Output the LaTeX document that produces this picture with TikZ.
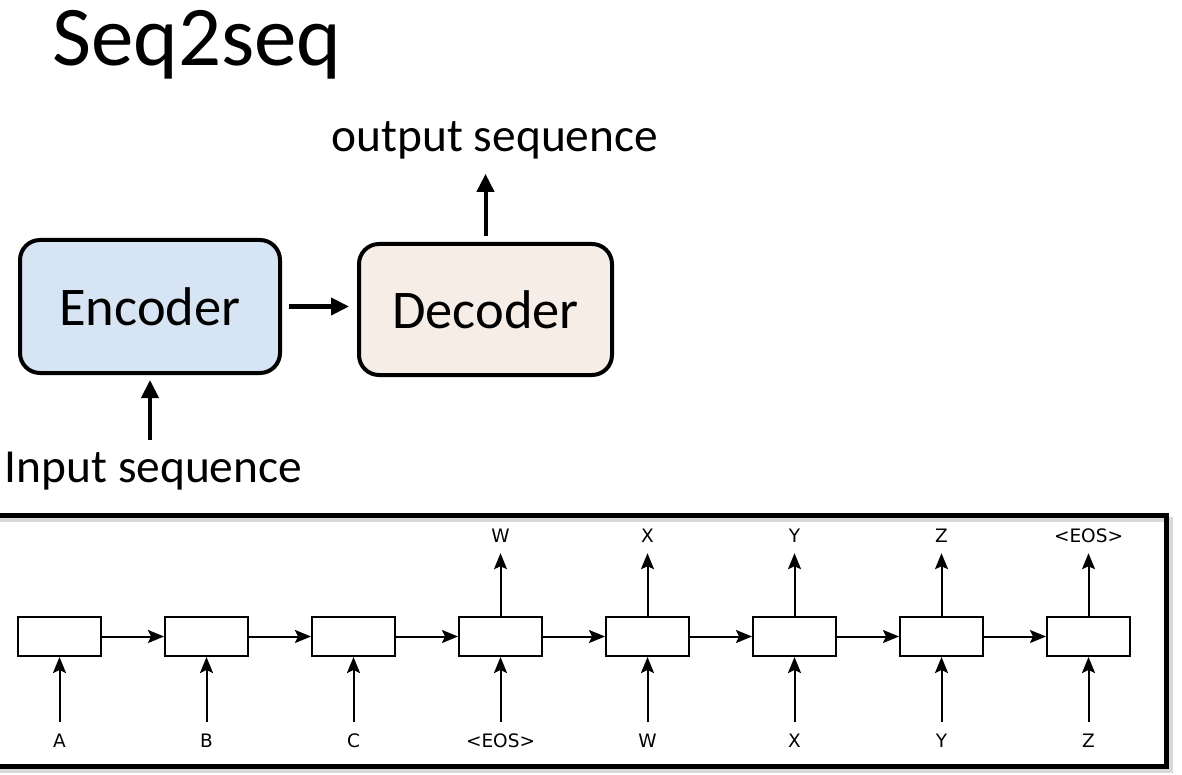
\documentclass[tikz,border=0pt]{standalone}
\usepackage{fontspec}
\setmainfont{Carlito}
\newfontfamily\cellfont{DejaVu Sans}
\usetikzlibrary{arrows.meta,calc}

\definecolor{encblue}{RGB}{214,228,243}
\definecolor{decbeige}{RGB}{246,238,230}

\tikzset{
  block/.style={draw,line width=4pt,rounded corners=20pt,font=\fontsize{54.5}{60}\selectfont},
  cell/.style={draw,line width=2pt,minimum width=83pt,minimum height=39pt,inner sep=0pt},
  tok/.style={font=\cellfont\fontsize{18.5}{21}\selectfont,inner sep=0pt,text height=13.5pt,text depth=0pt,anchor=base},
  caption/.style={anchor=base,inner sep=0pt,font=\fontsize{47.4}{55}\selectfont},
  thinarrow/.style={line width=2pt,-{Stealth[length=16pt,width=13pt,inset=3pt]}},
  thickarrow/.style={line width=4pt,-{Triangle[length=18pt,width=17pt]}},
}

\begin{document}
\begin{tikzpicture}[x=1pt,y=-1pt]
\useasboundingbox (0,0) rectangle (1182,775);
\clip (0,0) rectangle (1182,775);
\path (52,66) node(title)[anchor=base west,inner sep=0pt,font=\fontsize{85}{100}\selectfont] {Seq2seq};
% encoder - decoder
\path (150,306.5) node(enc)[block,fill=encblue,minimum width=260pt,minimum height=133pt] {Encoder};
\path (485.5,309.5) node(dec)[block,fill=decbeige,minimum width=253pt,minimum height=131pt] {Decoder};
\path (495,152) node(outtxt)[caption] {output sequence};
\path (153.5,482) node(intxt)[caption] {Input sequence};
\draw[thickarrow,shorten <=7pt,shorten >=8pt] (enc.east) -- (enc.east -| dec.west);
\draw[thickarrow,shorten <=6pt,shorten >=14pt] (dec.north) -- (dec.north |- outtxt.south);
\draw[thickarrow,shorten <=11pt,shorten >=5pt] (enc.south |- intxt.north) -- (enc.south);
% unrolled rnn
\draw[line width=5pt,gray!30] (-20,519) rectangle (1170,770);
\draw[line width=5pt] (-20,515) rectangle (1166,766);
\foreach \i/\a in {1/A,2/B,3/C,4/{<EOS>},5/W,6/X,7/Y,8/Z}{
  \path ({59.5+147*(\i-1)},747) node(in\i)[tok] {\a};
  \path ({59.5+147*(\i-1)},636.5) node(c\i)[cell] {};
  \draw[thinarrow,shorten <=11pt] (in\i.north) -- (c\i.south);
}
\foreach \i/\b in {4/W,5/X,6/Y,7/Z,8/{<EOS>}}{
  \path ({59.5+147*(\i-1)},542) node(out\i)[tok] {\b};
  \draw[thinarrow,shorten >=11pt] (c\i.north) -- (out\i.south);
}
\foreach \i/\j in {1/2,2/3,3/4,4/5,5/6,6/7,7/8}
  \draw[thinarrow] (c\i.east) -- (c\j.west);
\end{tikzpicture}
\end{document}
